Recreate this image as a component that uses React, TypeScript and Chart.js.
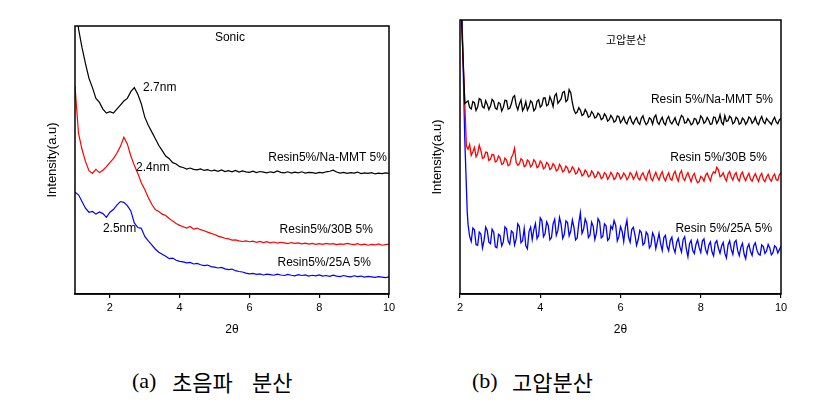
import React, { useEffect, useRef } from "react";
import { Chart, registerables } from "chart.js";
Chart.register(...registerables);

// ---------- (a) Sonic ----------
const A_X_TICKS = [2, 4, 6, 8, 10];
const A_X_START = 1.0;
const A_X_STEP = 0.1;
const A_BLACK = [
  118, 99, 92, 86, 80.5, 77, 73, 71.5, 69, 67.5,
  68, 67.5, 69, 70.5, 72, 73, 75.5, 77, 74.5, 71,
  66, 63, 60.5, 58, 55.5, 53.5, 51.5, 50.5, 49, 48.5,
  47.5, 47.2, 46.6, 47, 46.5, 46.3, 46.7, 46.1, 46.4, 45.9,
  46.2, 45.8, 46.3, 45.7, 46, 45.6, 46.1, 45.5, 45.9, 45.6,
  45.4, 45.8, 45.3, 45.7, 45.5, 45.2, 45.6, 45.3, 45.9, 45.4,
  45.2, 45.6, 45.1, 45.5, 45.2, 45.6, 45.1, 45.4, 45.3, 45.0,
  45.4, 45.2, 45.6, 45.8, 46.2, 45.5, 45.1, 45.4, 45.0, 45.3,
  45.1, 45.5, 44.9, 45.2, 45.0, 45.3, 44.8, 45.1, 44.9, 45.2,
  45.0,
];
const A_RED = [
  77.6, 60, 54, 49.5, 46, 45, 46.5, 45.3, 46.2, 47.5,
  49, 50.5, 52.5, 55, 58.5, 56, 51.5, 48, 45, 41.5,
  39, 36, 33.5, 31.5, 30.8, 29.8, 29.3, 28.2, 27.2, 26.3,
  25.6, 25.1, 24.6, 25.2, 24.2, 24.6, 24.0, 23.6, 23.1, 22.6,
  22.2, 21.6, 21.2, 20.8, 20.6, 20.1, 20.2, 19.8, 19.6, 19.8,
  19.5, 19.7, 19.3, 19.6, 19.2, 19.5, 19.1, 19.4, 19.0, 19.3,
  19.1, 18.8, 19.2, 18.9, 19.1, 18.7, 19.0, 18.6, 18.9, 18.5,
  18.8, 18.5, 18.9, 18.6, 18.8, 18.4, 18.7, 18.5, 18.9, 18.6,
  18.4, 18.8, 18.3, 18.6, 18.2, 18.5, 18.3, 18.7, 18.2, 18.4,
  18.6,
];
const A_BLUE = [
  38, 37, 34.5, 32, 30.5, 30.8, 29.8, 30.6, 30.0, 28.6,
  30.5, 31.5, 33.2, 34.5, 34.2, 33.0, 31.0, 26.5, 24.8, 24.5,
  21.5, 19.8, 18.3, 16.8, 15.6, 14.8, 14.1, 13.2, 13.4, 12.6,
  12.2, 12.0, 11.6, 11.8, 11.2, 11.4, 10.9, 10.6, 10.8, 10.2,
  10.0, 9.7, 9.9, 9.4, 9.1, 9.3, 8.7, 8.4, 8.2, 7.8,
  7.5, 7.7, 7.3, 7.5, 7.1, 7.4, 7.2, 7.0, 7.4, 7.1,
  6.9, 7.3, 7.0, 6.8, 7.2, 6.9, 7.1, 6.7, 7.0, 6.8,
  7.1, 6.7, 6.9, 6.6, 7.0, 6.7, 6.5, 6.9, 6.6, 6.4,
  6.8, 6.5, 6.7, 6.3, 6.6, 6.4, 6.2, 6.5, 6.3, 6.1,
  6.4,
];

// ---------- (b) high pressure ----------
const B_X_TICKS = [2, 4, 6, 8, 10];
const B_X_START = 2.2;
const B_X_STEP = 0.04;
const B_BLACK_HEAD_X = [2.0, 2.12];
const B_BLACK_HEAD_Y = [115, 69.5];
const B_RED_HEAD_X = [2.0, 2.16];
const B_RED_HEAD_Y = [115, 54];
const B_BLUE_HEAD_X = [2.03, 2.12, 2.18];
const B_BLUE_HEAD_Y = [115, 56, 30];
const B_BLACK = [
  70.5, 68.1, 67.5, 70.2, 69.8, 67.0, 68.2, 71.3, 70.9, 68.4,
  67.9, 70.6, 69.2, 67.3, 68.6, 71.0, 70.3, 67.8, 67.4, 69.9,
  69.5, 66.8, 68.1, 70.7, 70.6, 67.5, 67.8, 69.4, 71.8, 72.4,
  68.9, 67.2, 69.4, 70.8, 66.9, 68.0, 70.2, 67.1, 68.3, 70.5,
  69.8, 66.9, 67.6, 70.3, 70.9, 68.2, 68.8, 71.5, 71.6, 68.7,
  69.2, 72.0, 70.5, 68.4, 72.3, 73.1, 69.6, 70.4, 71.2, 73.6,
  73.9, 70.2, 70.8, 74.6, 73.5, 69.8, 67.2, 65.9, 66.4, 68.0,
  67.1, 65.2, 65.6, 67.3, 66.3, 64.5, 64.9, 66.6, 65.8, 64.2,
  64.6, 66.0, 65.4, 63.6, 64.1, 65.7, 64.9, 63.1, 63.6, 65.2,
  64.3, 62.7, 63.2, 65.0, 64.7, 62.5, 63.4, 64.6, 62.8, 62.1,
  63.9, 64.8, 62.9, 62.0, 63.5, 64.4, 62.6, 61.9, 64.1, 65.0,
  63.0, 61.8, 62.5, 64.3, 63.8, 62.0, 64.5, 65.3, 62.7, 61.9,
  63.4, 64.5, 62.4, 61.7, 63.9, 64.8, 62.8, 62.1, 63.2, 64.3,
  62.3, 61.6, 63.6, 65.2, 64.6, 62.4, 62.5, 64.0, 63.1, 61.8,
  62.2, 64.1, 63.8, 62.0, 62.7, 65.0, 64.2, 62.3, 62.9, 64.4,
  63.4, 61.9, 62.1, 64.6, 64.4, 62.2, 63.3, 65.4, 62.6, 61.8,
  65.1, 63.0, 63.2, 64.9, 64.3, 62.1, 62.7, 64.5, 63.9, 62.0,
  62.4, 64.2, 63.6, 61.9, 62.8, 64.6, 64.0, 62.3, 63.1, 64.5,
  62.5, 61.8, 63.7, 64.8, 62.9, 62.2, 64.1, 63.3, 62.6, 61.9,
  63.4, 64.5, 62.8, 62.1, 63.6, 64.2, 63.0,
];
const B_RED = [
  52.8, 54.6, 50.6, 51.9, 53.5, 50.1, 51.2, 54.3, 52.4, 49.5,
  49.8, 51.8, 51.6, 48.7, 49.2, 50.9, 50.8, 48.2, 48.6, 50.4,
  49.5, 47.3, 47.6, 49.6, 48.9, 46.8, 47.2, 49.8, 50.9, 53.2,
  48.1, 47.0, 47.5, 49.4, 48.8, 46.5, 46.9, 48.9, 48.3, 46.4,
  47.1, 49.0, 48.2, 46.1, 46.6, 48.5, 47.8, 45.7, 46.2, 48.0,
  47.4, 45.4, 45.9, 47.6, 46.8, 44.9, 45.4, 47.3, 46.3, 44.6,
  45.1, 46.7, 46.0, 44.2, 44.8, 46.4, 45.6, 43.8, 44.2, 45.9,
  44.9, 43.1, 43.6, 45.2, 44.5, 42.8, 43.2, 44.9, 44.1, 42.5,
  43.0, 44.6, 43.9, 42.1, 42.6, 44.3, 43.7, 41.9, 42.8, 44.4,
  43.5, 41.8, 42.4, 44.2, 43.8, 42.0, 42.7, 44.1, 43.3, 41.7,
  42.5, 44.3, 43.6, 41.9, 42.9, 44.5, 42.3, 41.6, 43.4, 44.2,
  42.6, 41.5, 43.9, 45.1, 42.2, 41.4, 43.1, 44.4, 42.7, 41.6,
  43.5, 44.6, 42.4, 41.3, 43.0, 44.2, 42.1, 41.5, 43.7, 44.8,
  42.6, 41.2, 44.0, 45.0, 42.3, 41.4, 43.2, 44.3, 42.5, 41.0,
  43.1, 44.0, 42.0, 40.6, 41.0, 42.9, 42.4, 41.2, 43.3, 44.1,
  42.6, 41.3, 43.5, 44.6, 44.1, 46.2, 45.3, 42.8, 43.2, 44.2,
  42.4, 41.3, 43.8, 44.7, 42.7, 41.6, 43.4, 44.3, 42.1, 41.2,
  43.6, 44.5, 42.5, 41.4, 43.0, 44.1, 41.9, 41.2, 42.8, 43.9,
  42.3, 41.1, 43.1, 44.0, 41.8, 41.0, 42.6, 43.7, 42.0, 41.2,
  42.9, 43.8, 41.7, 41.5, 43.6, 44.2, 42.4,
];
const B_BLUE = [
  25.5, 21.0, 19.2, 24.1, 23.4, 18.0, 17.8, 22.6, 21.9, 16.8,
  19.6, 24.4, 23.1, 18.9, 18.4, 23.7, 22.6, 17.2, 16.9, 21.8,
  21.3, 17.6, 19.0, 24.5, 23.8, 19.3, 18.2, 23.0, 22.4, 17.9,
  20.1, 25.6, 24.6, 18.7, 19.5, 23.9, 17.6, 16.5, 22.8, 24.4,
  19.9, 23.5, 25.7, 20.2, 21.4, 27.8, 26.8, 20.9, 22.1, 26.3,
  24.9, 19.8, 20.6, 25.6, 27.3, 21.4, 23.2, 27.9, 25.4, 20.3,
  21.8, 26.7, 26.1, 21.2, 22.9, 27.0, 24.3, 19.7, 20.4, 25.8,
  29.6, 22.1, 23.6, 27.4, 25.8, 20.6, 21.5, 26.2, 24.7, 19.9,
  22.2, 27.5, 26.4, 20.5, 21.1, 25.6, 24.9, 19.6, 20.3, 24.8,
  23.7, 26.8, 25.1, 19.4, 21.0, 24.6, 22.9, 19.1, 24.2, 26.9,
  20.8, 18.9, 23.5, 24.3, 21.6, 17.8, 19.8, 23.2, 22.4, 17.9,
  18.6, 22.6, 21.7, 16.8, 17.9, 22.3, 20.9, 16.6, 19.2, 22.1,
  18.3, 15.9, 20.6, 21.4, 17.4, 15.8, 19.5, 20.7, 16.8, 15.1,
  18.9, 20.3, 17.2, 15.3, 19.8, 20.9, 16.5, 13.6, 18.4, 19.6,
  15.9, 14.8, 18.1, 19.7, 17.0, 15.2, 19.3, 20.1, 16.2, 14.7,
  17.8, 19.0, 15.4, 13.9, 18.6, 19.5, 16.7, 14.9, 17.5, 18.8,
  14.9, 13.2, 17.9, 19.4, 16.3, 14.5, 18.8, 19.6, 15.8, 14.0,
  17.1, 18.5, 14.6, 12.9, 16.9, 18.2, 15.5, 14.1, 17.6, 18.7,
  16.0, 14.6, 14.2, 17.9, 17.3, 14.8, 15.7, 18.1, 16.8, 14.3,
  15.1, 17.6, 17.0, 15.0, 16.2, 17.4, 15.6,
];

type Note = { text: string; x: number; y: number; align: CanvasTextAlign; font: string };

const LAT = '"Liberation Sans", Arial, sans-serif';

const A_NOTES: Note[] = [
  { text: "Sonic", x: 5.44, y: 95.5, align: "center", font: `12px ${LAT}` },
  { text: "2.7nm", x: 2.95, y: 76.9, align: "left", font: `12px ${LAT}` },
  { text: "2.4nm", x: 2.75, y: 47, align: "left", font: `12px ${LAT}` },
  { text: "2.5nm", x: 1.8, y: 24.3, align: "left", font: `12px ${LAT}` },
  { text: "Resin5%/Na-MMT 5%", x: 9.94, y: 50.7, align: "right", font: `12px ${LAT}` },
  { text: "Resin5%/30B 5%", x: 9.54, y: 23.9, align: "right", font: `12px ${LAT}` },
  { text: "Resin5%/25A 5%", x: 9.48, y: 11.6, align: "right", font: `12px ${LAT}` },
];
const B_NOTES: Note[] = [
  { text: "고압분산", x: 6.14, y: 92.7, align: "center", font: `11px "Noto Sans CJK KR"` },
  { text: "Resin 5%/Na-MMT 5%", x: 9.8, y: 70.8, align: "right", font: `12px ${LAT}` },
  { text: "Resin 5%/30B 5%", x: 9.65, y: 49.6, align: "right", font: `12px ${LAT}` },
  { text: "Resin 5%/25A 5%", x: 9.78, y: 23.7, align: "right", font: `12px ${LAT}` },
];

const pts = (start: number, step: number, ys: number[], hx: number[] = [], hy: number[] = []) => [
  ...hx.map((x, i) => ({ x, y: hy[i] })),
  ...ys.map((y, i) => ({ x: +(start + i * step).toFixed(3), y })),
];

const line = (data: any[], color: string, w = 1.2) => ({
  data,
  borderColor: color,
  borderWidth: w,
  pointRadius: 0,
  tension: 0,
  fill: false,
});

function framePlugin(notes: Note[], xTitle: string, yTitle: string) {
  return {
    id: "frame",
    afterDraw(chart: any) {
      const { ctx, chartArea: a, scales } = chart;
      ctx.save();
      ctx.strokeStyle = "#000";
      ctx.lineWidth = 1.5;
      ctx.strokeRect(a.left, a.top, a.right - a.left, a.bottom - a.top);
      ctx.fillStyle = "#000";
      ctx.textBaseline = "middle";
      for (const n of notes) {
        ctx.font = n.font;
        ctx.textAlign = n.align;
        ctx.fillText(n.text, scales.x.getPixelForValue(n.x), scales.y.getPixelForValue(n.y));
      }
      ctx.font = `12px ${LAT}`;
      ctx.textAlign = "center";
      ctx.fillText(xTitle, (a.left + a.right) / 2, a.bottom + 36);
      ctx.translate(a.left - 23, (a.top + a.bottom) / 2);
      ctx.rotate(-Math.PI / 2);
      ctx.font = `13px ${LAT}`;
      ctx.fillText(yTitle, 0, 0);
      ctx.restore();
    },
  };
}

function XrdChart(props: {
  left: number;
  width: number;
  height: number;
  padding: { left: number; right: number; top: number; bottom: number };
  xMin: number;
  xMax: number;
  ticks: number[];
  datasets: any[];
  notes: Note[];
}) {
  const ref = useRef<HTMLCanvasElement>(null);
  useEffect(() => {
    const chart = new Chart(ref.current!, {
      type: "line",
      data: { datasets: props.datasets },
      options: {
        responsive: false,
        animation: false,
        maintainAspectRatio: false,
        layout: { padding: props.padding },
        plugins: { legend: { display: false }, tooltip: { enabled: false } },
        scales: {
          x: {
            type: "linear",
            min: props.xMin,
            max: props.xMax,
            afterBuildTicks: (s: any) => {
              s.ticks = props.ticks.map((v) => ({ value: v }));
            },
            afterFit: (s: any) => {
              s.height = 20;
            },
            ticks: {
              color: "#000",
              font: { family: "Liberation Sans", size: 11 },
              padding: 3,
              maxRotation: 0,
              autoSkip: false,
            },
            grid: {
              display: true,
              drawOnChartArea: false,
              drawTicks: true,
              tickLength: 4,
              color: "#000",
              lineWidth: 1.2,
            },
            border: { display: true, color: "#000", width: 1.5 },
          },
          y: { type: "linear", min: 0, max: 100, display: false },
        },
      } as any,
      plugins: [framePlugin(props.notes, "2θ", "Intensity(a.u)")],
    });
    return () => chart.destroy();
  }, []);
  return (
    <canvas
      ref={ref}
      width={props.width}
      height={props.height}
      style={{ position: "absolute", left: props.left, top: 0, width: props.width, height: props.height }}
    />
  );
}

const capStyle: React.CSSProperties = {
  position: "absolute",
  top: 369,
  fontSize: 22,
  lineHeight: "24px",
  color: "#000",
  whiteSpace: "nowrap",
};
const serif = '"Liberation Serif", "DejaVu Serif", serif';
const kr = '"Noto Sans CJK KR", sans-serif';

export default function App() {
  const aSets = [
    line(pts(A_X_START, A_X_STEP, A_BLACK), "#000000"),
    line(pts(A_X_START, A_X_STEP, A_RED), "#ff0000"),
    line(pts(A_X_START, A_X_STEP, A_BLUE), "#0000ff"),
  ];
  const bSets = [
    line(pts(B_X_START, B_X_STEP, B_BLACK, B_BLACK_HEAD_X, B_BLACK_HEAD_Y), "#000000", 1.3),
    line(pts(B_X_START, B_X_STEP, B_RED, B_RED_HEAD_X, B_RED_HEAD_Y), "#ff0000", 1.3),
    line(pts(B_X_START, B_X_STEP, B_BLUE, B_BLUE_HEAD_X, B_BLUE_HEAD_Y), "#0000ff", 1.3),
  ];
  return (
    <div style={{ position: "absolute", left: 0, top: 0, width: 819, height: 408, background: "#fff", overflow: "hidden" }}>
      <XrdChart
        left={0}
        width={410}
        height={345}
        padding={{ left: 75, right: 21, top: 26, bottom: 31 }}
        xMin={1}
        xMax={10}
        ticks={A_X_TICKS}
        datasets={aSets}
        notes={A_NOTES}
      />
      <XrdChart
        left={410}
        width={409}
        height={345}
        padding={{ left: 50, right: 38, top: 20, bottom: 31 }}
        xMin={2}
        xMax={10}
        ticks={B_X_TICKS}
        datasets={bSets}
        notes={B_NOTES}
      />
      <div style={{ ...capStyle, left: 132, fontFamily: serif }}>(a)</div>
      <div style={{ ...capStyle, left: 172, fontFamily: kr }}>초음파</div>
      <div style={{ ...capStyle, left: 252, fontFamily: kr }}>분산</div>
      <div style={{ ...capStyle, left: 472, fontFamily: serif }}>(b)</div>
      <div style={{ ...capStyle, left: 512, fontFamily: kr }}>고압분산</div>
    </div>
  );
}
